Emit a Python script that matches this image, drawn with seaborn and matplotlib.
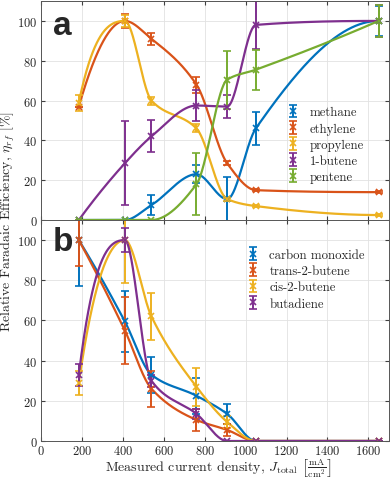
import numpy as np
import pandas as pd
import matplotlib
matplotlib.use("Agg")
import matplotlib.pyplot as plt
import seaborn as sns

# measured current densities (mA/cm2)
j_total = [185, 410, 540, 760, 910, 1050, 1650]

# panel a
top_names = ["methane", "ethylene", "propylene", "1-butene", "pentene"]
top_vals = {
    "methane":   [0, 0, 7.5, 23, 10.5, 46, 100],
    "ethylene":  [57, 100, 91, 68, 28.5, 15, 14],
    "propylene": [59, 100, 60, 46, 10.5, 7, 2.5],
    "1-butene":  [0, 28.5, 42, 57.5, 57, 98, 100],
    "pentene":   [0, 0, 0, 18, 70.5, 75.5, 100],
}
top_errs = {
    "methane":   [0, 0, 5, 4.5, 11, 8.5, 7.5],
    "ethylene":  [0, 3.5, 3, 4, 1, 0.6, 0.6],
    "propylene": [4, 3, 2, 2, 0.8, 0.7, 0.7],
    "1-butene":  [0, 21, 8, 8, 6, 12, 8],
    "pentene":   [0, 0, 0, 15.5, 14.5, 10, 8],
}

# panel b
bot_names = ["carbon monoxide", "trans-2-butene", "cis-2-butene", "butadiene"]
bot_vals = {
    "carbon monoxide": [100, 59.5, 33, 22.5, 13.5, 0, 0],
    "trans-2-butene":  [100, 55, 26, 10.5, 5.5, 0, 0],
    "cis-2-butene":    [29, 100, 62, 27, 9.5, 0, 0],
    "butadiene":       [33, 100, 30, 13.5, 0, 0, 0],
}
bot_errs = {
    "carbon monoxide": [23, 15, 9, 9, 5, 0, 0],
    "trans-2-butene":  [13, 16.5, 9, 5.5, 3, 0, 0],
    "cis-2-butene":    [6, 21.5, 11.5, 9.5, 3, 0, 0],
    "butadiene":       [5.5, 6, 3, 2.5, 0, 0, 0],
}

colors = ["#0072BD", "#D95319", "#EDB120", "#7E2F8E", "#77AC30"]


def pchip(x, y, xs):
    # shape preserving piecewise cubic, like matlab's pchip
    x = np.asarray(x, float)
    y = np.asarray(y, float)
    h = np.diff(x)
    d = np.diff(y) / h
    n = len(x)
    m = np.zeros(n)
    for k in range(1, n - 1):
        if d[k - 1] * d[k] > 0:
            w1 = 2 * h[k] + h[k - 1]
            w2 = h[k] + 2 * h[k - 1]
            m[k] = (w1 + w2) / (w1 / d[k - 1] + w2 / d[k])

    def end(h0, h1, d0, d1):
        s = ((2 * h0 + h1) * d0 - h0 * d1) / (h0 + h1)
        if np.sign(s) != np.sign(d0):
            s = 0.0
        elif np.sign(d0) != np.sign(d1) and abs(s) > abs(3 * d0):
            s = 3 * d0
        return s

    m[0] = end(h[0], h[1], d[0], d[1])
    m[-1] = end(h[-1], h[-2], d[-1], d[-2])
    idx = np.clip(np.searchsorted(x, xs) - 1, 0, n - 2)
    t = (xs - x[idx]) / h[idx]
    h00 = 2 * t**3 - 3 * t**2 + 1
    h10 = t**3 - 2 * t**2 + t
    h01 = -2 * t**3 + 3 * t**2
    h11 = t**3 - t**2
    return (h00 * y[idx] + h10 * h[idx] * m[idx]
            + h01 * y[idx + 1] + h11 * h[idx] * m[idx + 1])


sns.set_style("ticks")
plt.rcParams["font.family"] = "serif"
plt.rcParams["font.serif"] = ["cmr10"]
plt.rcParams["mathtext.fontset"] = "cm"
plt.rcParams["axes.formatter.use_mathtext"] = True
plt.rcParams["axes.unicode_minus"] = False

fig = plt.figure(figsize=(3.9, 4.81), dpi=100)
ax_a = fig.add_axes([0.105, 0.5405, 0.892, 0.4553])
ax_b = fig.add_axes([0.105, 0.0811, 0.892, 0.4594])

xs = np.linspace(j_total[0], j_total[-1], 600)


def draw(ax, names, vals, errs, cols):
    for name, c in zip(names, cols):
        curve = pd.DataFrame({"x": xs, "y": pchip(j_total, vals[name], xs)})
        sns.lineplot(data=curve, x="x", y="y", ax=ax, color=c, lw=1.6)
    for name, c in zip(names, cols):
        ax.errorbar(j_total, vals[name], yerr=errs[name], fmt="x", color=c,
                    ms=4, mew=1.2, elinewidth=1.4, capsize=3, capthick=1.4,
                    label=name)
    ax.set_xlim(0, 1700)
    ax.set_ylim(0, 110)
    ax.set_xticks(range(0, 1601, 200))
    ax.set_yticks(range(0, 101, 20))
    ax.grid(True, color="#e2e2e2", lw=0.6)
    ax.tick_params(direction="in", top=True, right=True, length=3,
                   labelsize=9, colors="#404040", labelcolor="#262626")
    ax.tick_params(axis="y", pad=2.5)
    for s in ax.spines.values():
        s.set_color("#555555")
        s.set_linewidth(0.7)
    ax.set_xlabel("")
    ax.set_ylabel("")


draw(ax_a, top_names, top_vals, top_errs, colors)
draw(ax_b, bot_names, bot_vals, bot_errs, colors)
ax_a.tick_params(labelbottom=False)
ax_b.tick_params(axis="x", pad=2)

ax_a.legend(loc="upper left", bbox_to_anchor=(0.68, 0.56), frameon=False,
            fontsize=9.2, handlelength=1.0, handletextpad=0.8,
            labelspacing=0.32, borderpad=0.2)
ax_b.legend(loc="upper left", bbox_to_anchor=(0.565, 0.91), frameon=False,
            fontsize=9.2, handlelength=1.0, handletextpad=0.8,
            labelspacing=0.32, borderpad=0.2)

ax_a.text(0.035, 0.85, "a", transform=ax_a.transAxes, fontsize=24,
          fontweight="bold", family="Liberation Sans", va="baseline")
ax_b.text(0.035, 0.865, "b", transform=ax_b.transAxes, fontsize=24,
          fontweight="bold", family="Liberation Sans", va="baseline")

fig.text(0.56, 1 - 469 / 481,
         r"Measured current density, $J_{\rm total}$ "
         r"$\left[\frac{\rm mA}{\rm cm^2}\right]$",
         ha="center", va="center", fontsize=10, color="#262626")
fig.text(0.02, 0.54, r"Relative Faradaic Efficiency, $\eta_{rf}$ $[\%]$",
         rotation=90, ha="center", va="center", fontsize=10,
         color="#262626")

fig.savefig("out.png", dpi=100)
